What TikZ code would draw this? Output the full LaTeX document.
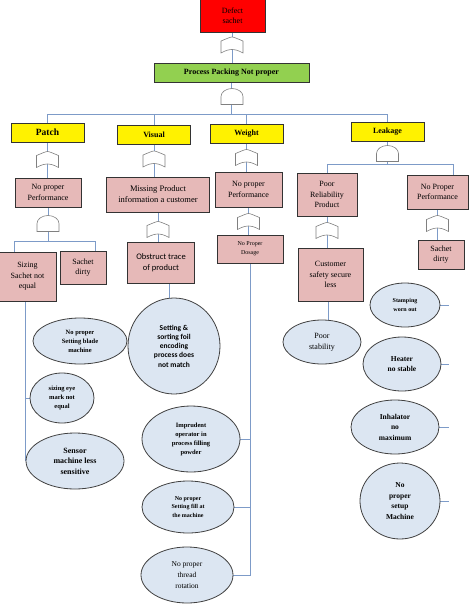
\documentclass[tikz,border=0pt]{standalone}
\usepackage{fontspec}
\setmainfont{Liberation Serif}
\newfontfamily\calibri{Carlito}
\usetikzlibrary{shapes.geometric}
\pgfdeclarelayer{bg}
\pgfsetlayers{bg,main}

\definecolor{boxpink}{RGB}{230,185,184}
\definecolor{bubblefill}{RGB}{220,230,242}
\definecolor{wire}{RGB}{125,155,200}
\definecolor{leafgreen}{RGB}{146,208,80}

\tikzset{
  box/.style={draw=black!80, line width=0.9pt, align=center, inner sep=1pt, font=\fontsize{8}{10.5}\selectfont},
  cause/.style={box, fill=boxpink},
  topic/.style={box, fill=yellow, minimum width=73pt, minimum height=19pt, font=\bfseries\fontsize{8}{10}\selectfont},
  bubble/.style={ellipse, draw=black!75, line width=0.8pt, fill=bubblefill, align=center, inner sep=0pt},
  link/.style={draw=wire, line width=0.8pt},
  orgate/.pic={\draw[gray, fill=white, line width=0.6pt] (-11,8) -- (-11,-4)
    .. controls (-6,-6) and (-2,-8) .. (0,-8) .. controls (2,-8) and (6,-6) .. (11,-4) -- (11,8)
    .. controls (6,5) and (2,4.5) .. (0,4.5) .. controls (-2,4.5) and (-6,5) .. (-11,8) -- cycle;},
  andgate/.pic={\draw[gray, fill=white, line width=0.6pt] (-11,8) -- (-11,0)
    .. controls (-11,-4.4) and (-6.1,-8) .. (0,-8) .. controls (6.1,-8) and (11,-4.4) .. (11,0) -- (11,8) -- cycle;}
}

\begin{document}
\begin{tikzpicture}[x=1pt,y=-1pt]
\useasboundingbox (0,0) rectangle (474,606);

% top event
\node[box, fill=red, minimum width=65pt, minimum height=33pt] (defect) at (232.5,15.5) {Defect\\sachet};
\node[box, fill=leafgreen, minimum width=155pt, minimum height=19pt, font=\bfseries\fontsize{8}{10}\selectfont] (packing) at (231.5,72.5) {Process Packing Not proper};

% four groups
\node[topic, font=\bfseries\fontsize{9.5}{11}\selectfont] (patch) at (47.5,132.5) {Patch};
\node[topic] (visual) at (154,134.5) {Visual};
\node[topic] (weight) at (246.5,133.5) {Weight};
\node[topic] (leakage) at (387.5,131.5) {Leakage};

% patch
\node[cause, minimum width=66pt, minimum height=29pt] (patchperf) at (48,192.5) {No proper\\Performance};
\node[cause, minimum width=57pt, minimum height=49pt] (sizing) at (27.5,276.5) {Sizing\\Sachet not\\equal};
\node[cause, minimum width=46pt, minimum height=33pt] (patchdirty) at (83,267.5) {Sachet\\dirty};
\node[bubble, minimum width=94pt, minimum height=46pt, font=\bfseries\fontsize{6.5}{9}\selectfont] (blade) at (80,341) {No proper\\Setting blade\\machine};
\node[bubble, minimum width=64pt, minimum height=50pt, font=\bfseries\fontsize{6.5}{9}\selectfont] (eyemark) at (62,398) {sizing eye\\mark not\\equal};
\node[bubble, minimum width=98pt, minimum height=56pt, font=\bfseries\fontsize{8}{10.5}\selectfont] (sensor) at (75,461) {Sensor\\machine less\\sensitive};

% visual
\node[cause, minimum width=103pt, minimum height=35pt, font=\fontsize{8.5}{11}\selectfont] (missing) at (158,194.5) {Missing Product\\information a customer};
\node[cause, minimum width=67pt, minimum height=41pt, font=\calibri\fontsize{8.5}{11}\selectfont] (obstruct) at (161,262.5) {Obstruct trace\\of product};
\node[bubble, minimum width=92pt, minimum height=96pt, font=\calibri\bfseries\fontsize{7.5}{9.2}\selectfont] (foil) at (174,346) {Setting \&\\sorting foil\\encoding\\process does\\not match};

% weight
\node[cause, minimum width=67pt, minimum height=35pt] (weightperf) at (248.5,189.5) {No proper\\Performance};
\node[cause, minimum width=66pt, minimum height=28pt, font=\fontsize{6}{9}\selectfont] (dosage) at (250,249) {No Proper\\Dosage};
\node[bubble, minimum width=98pt, minimum height=66pt, font=\bfseries\fontsize{6.5}{9}\selectfont] (imprudent) at (191,439) {Imprudent\\operator in\\process filling\\powder};
\node[bubble, minimum width=92pt, minimum height=52pt, font=\bfseries\fontsize{6}{8.5}\selectfont] (settingfill) at (188,507) {No proper\\Setting fill at\\the machine};
\node[bubble, minimum width=92pt, minimum height=56pt, font=\fontsize{7.5}{11}\selectfont] (thread) at (187,575) {No proper\\thread\\rotation};

% leakage
\node[cause, minimum width=60pt, minimum height=43pt] (reliability) at (327,194.5) {Poor\\Reliability\\Product};
\node[cause, minimum width=61pt, minimum height=34pt] (leakperf) at (437.5,192) {No Proper\\Performance};
\node[cause, minimum width=65pt, minimum height=53pt] (safety) at (330.5,274.5) {Customer\\safety secure\\less};
\node[cause, minimum width=46pt, minimum height=29pt] (leakdirty) at (441,254.5) {Sachet\\dirty};
\node[bubble, minimum width=78pt, minimum height=44pt, font=\fontsize{8}{11}\selectfont] (stability) at (322,342) {Poor\\stability};
\node[bubble, minimum width=70pt, minimum height=44pt, font=\bfseries\fontsize{6}{9}\selectfont] (stamping) at (405,305) {Stamping\\worn out};
\node[bubble, minimum width=78pt, minimum height=54pt, font=\bfseries\fontsize{7.5}{10.5}\selectfont] (heater) at (402,364) {Heater\\no stable};
\node[bubble, minimum width=88pt, minimum height=54pt, font=\bfseries\fontsize{7.5}{10.5}\selectfont] (inhalator) at (395,427) {Inhalator\\no\\maximum};
\node[bubble, minimum width=80pt, minimum height=76pt, font=\bfseries\fontsize{7.5}{10.5}\selectfont] (setup) at (400,501) {No\\proper\\setup\\Machine};

\coordinate (mainbus) at (231.5,114);
\coordinate (patchbus) at (48,241);
\coordinate (leakbus) at (387.5,164);
\coordinate (rightbus) at (449,0);

\begin{pgfonlayer}{bg}
\draw[link] (defect.south) -- (defect.south |- packing.north);
\draw[link] (packing.south) -- (mainbus);
\foreach \t in {patch,visual,weight,leakage}
  \draw[link] (mainbus) -| (\t.north);
% patch
\draw[link] (patch.south) -- (patch.south |- patchperf.north);
\draw[link] (patchperf.south) -- (patchbus);
\draw[link] (patchbus) -| ([xshift=-13pt]sizing.north);
\draw[link] (patchbus) -| ([xshift=12pt]patchdirty.north);
\draw[link] (sensor.west |- sizing.south) -- (sensor.west);
\draw[link] (sensor.west |- eyemark.west) -- (eyemark.west);
% visual
\draw[link] (visual.south) -- (visual.south |- missing.north);
\draw[link] (missing.south) -- (missing.south |- obstruct.north);
\draw[link] ([xshift=8pt]obstruct.south) -- ([xshift=8pt]obstruct.south |- foil.center);
% weight
\draw[link] (weight.south) -- (weight.south |- weightperf.north);
\draw[link] (weightperf.south) -- (weightperf.south |- dosage.north);
\draw[link] (dosage.south) -- (dosage.south |- thread.east) -- (thread.east);
\foreach \e in {imprudent,settingfill}
  \draw[link] (dosage.south |- \e.east) -- (\e.east);
% leakage
\draw[link] (leakage.south) -- (leakbus);
\draw[link] (leakbus) -| (reliability.north);
\draw[link] (leakbus) -| ([xshift=15.5pt]leakperf.north);
\draw[link] (reliability.south) -- (reliability.south |- safety.north);
\draw[link] ([xshift=-2.5pt]safety.south) -- ([xshift=-2.5pt]safety.south |- stability.center);
\draw[link] (leakperf.south) -- (leakperf.south |- leakdirty.north);
\foreach \e in {stamping,heater,inhalator,setup}
  \draw[link] (\e.east) -- (\e.east -| rightbus);
\end{pgfonlayer}

% gates
\pic at (232,45) {orgate};
\pic at (232,96.5) {andgate};
\pic at (47.5,159.5) {orgate};
\pic at (154,159) {orgate};
\pic at (246.5,157.5) {orgate};
\pic at (387.5,153.5) {andgate};
\pic at (48,223.5) {andgate};
\pic at (158,229.5) {orgate};
\pic at (248.5,221.5) {orgate};
\pic at (327,230.5) {orgate};
\pic at (437.5,223.5) {orgate};
\end{tikzpicture}
\end{document}
